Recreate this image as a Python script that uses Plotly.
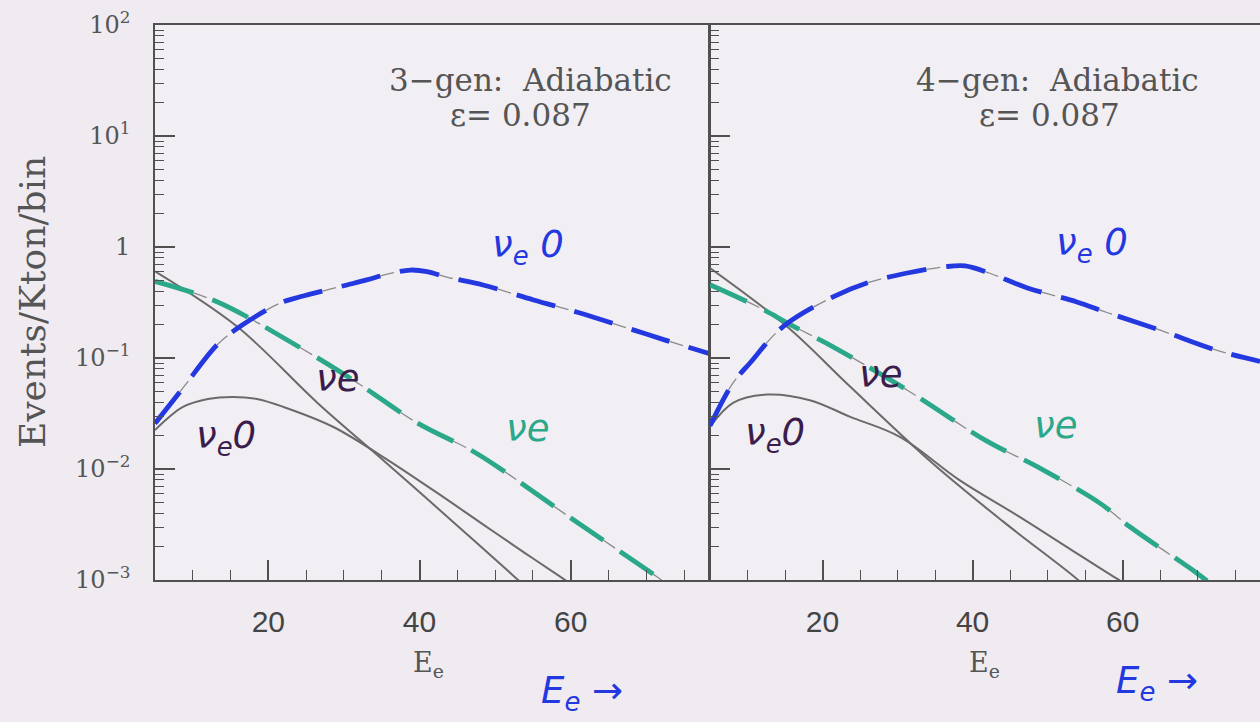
import plotly.graph_objects as go

# ---------------- data ----------------
# Left panel: 3-gen, adiabatic, eps = 0.087
e3_nue0_osc = [5, 8.7, 13.2, 16.2, 21.5, 24.2, 30.4, 33.0, 36.0, 38.8, 41.0, 43.6, 48.4, 55.1, 61, 67,
               72.5, 78.3]
y3_nue0_osc = [0.0257, 0.0537, 0.131, 0.191, 0.311, 0.356, 0.455, 0.505, 0.575, 0.620, 0.600, 0.535,
               0.455, 0.333, 0.257, 0.191, 0.145, 0.110]
e3_nue_osc = [5, 13.2, 24.3, 31.8, 39.7, 46.8, 50.3, 60.4, 71.4, 74]
y3_nue_osc = [0.49, 0.321, 0.123, 0.0596, 0.026, 0.0148, 0.0105, 0.00347, 0.00107, 0.00079]
e3_nue = [5, 15.9, 26.5, 35.2, 44, 52.7, 55]
y3_nue = [0.603, 0.191, 0.0394, 0.0120, 0.00355, 0.00105, 0.00076]
e3_nue0 = [5, 8.7, 12, 15.3, 18.5, 22, 28.6, 35.2, 42, 48, 54, 58.8, 61]
y3_nue0 = [0.0224, 0.0362, 0.0427, 0.0446, 0.0427, 0.0362, 0.0239, 0.0128, 0.00631, 0.00331,
           0.00174, 0.00105, 0.00083]

# Right panel: 4-gen, adiabatic, eps = 0.087
e4_nue0_osc = [5, 8.07, 10.33, 14.7, 21.4, 25.9, 31.3, 36.1, 39, 42.3, 47.3, 53.9, 57.9, 65, 72.6, 78.3]
y4_nue0_osc = [0.0245, 0.0596, 0.0902, 0.191, 0.355, 0.474, 0.583, 0.661, 0.676, 0.580, 0.428, 0.320,
               0.257, 0.178, 0.117, 0.0933]
e4_nue_osc = [5, 11.7, 15.7, 21.4, 31.3, 41.9, 48.6, 57, 61, 69.9, 73]
y4_nue_osc = [0.457, 0.282, 0.200, 0.126, 0.0513, 0.0178, 0.0105, 0.0049, 0.0030, 0.00115, 0.00079]
e4_nue = [5, 15.3, 23.7, 34.7, 44, 53.7, 56]
y4_nue = [0.646, 0.191, 0.055, 0.0112, 0.00339, 0.00105, 0.00076]
e4_nue0 = [5, 8.07, 12.6, 18.3, 23.7, 30.3, 38.3, 46, 53, 59, 61]
y4_nue0 = [0.024, 0.0394, 0.0468, 0.0417, 0.0295, 0.0195, 0.0079, 0.0038, 0.0019, 0.00105, 0.00087]

y_tickvals = [1e2, 1e1, 1, 1e-1, 1e-2, 1e-3]
y_ticktext = ["10<sup>2</sup>", "10<sup>1</sup>", "1", "10<sup>\u22121</sup>", "10<sup>\u22122</sup>",
              "10<sup>\u22123</sup>"]
x_tickvals = [20, 40, 60]
x_ticktext = ["20", "40", "60"]
panel_titles = ["3\u2212gen:  Adiabatic", "4\u2212gen:  Adiabatic"]
panel_eps = ["\u03b5= 0.087", "\u03b5= 0.087"]
y_title = "Events/Kton/bin"
x_title = "E<sub>e</sub>"

# ---------------- styling ----------------
W, H = 1260, 722
BG = "#efebf1"
AX = "#505050"
GRAY = "#6a6a6a"
BLUE = "#2438e0"
TEAL = "#2aa889"
PURPLE = "#3b1d4d"
SERIF = "DejaVu Serif"


def fx(p):
    return p / W


def fy(p):
    return 1 - p / H


fig = go.Figure()


def add_panel(xa, ya, e_b, y_b, e_t, y_t, e_n, y_n, e_0, y_0):
    # solid gray (no oscillation) curves
    for e, y in ((e_n, y_n), (e_0, y_0)):
        fig.add_trace(go.Scatter(x=e, y=y, xaxis=xa, yaxis=ya, mode="lines",
                                 line=dict(color=GRAY, width=2, shape="spline"),
                                 showlegend=False, hoverinfo="skip"))
    # dashed curves: thin gray base + thick coloured dashes
    for e, y, c in ((e_t, y_t, TEAL), (e_b, y_b, BLUE)):
        fig.add_trace(go.Scatter(x=e, y=y, xaxis=xa, yaxis=ya, mode="lines",
                                 line=dict(color="#8a8a8a", width=1.3, shape="spline", dash="14px,6px"),
                                 showlegend=False, hoverinfo="skip"))
        fig.add_trace(go.Scatter(x=e, y=y, xaxis=xa, yaxis=ya, mode="lines",
                                 line=dict(color=c, width=4.8, shape="spline", dash="40px,20px"),
                                 showlegend=False, hoverinfo="skip"))


add_panel("x", "y", e3_nue0_osc, y3_nue0_osc, e3_nue_osc, y3_nue_osc, e3_nue, y3_nue, e3_nue0, y3_nue0)
add_panel("x2", "y2", e4_nue0_osc, y4_nue0_osc, e4_nue_osc, y4_nue_osc, e4_nue, y4_nue, e4_nue0, y4_nue0)

minor_y = [m * 10 ** k for k in range(-3, 2) for m in range(2, 10)]

xcommon = dict(range=[5, 78.3], tickmode="array", tickvals=x_tickvals, ticktext=x_ticktext,
               ticks="inside", ticklen=20, tickwidth=1.5, tickcolor=AX, automargin=False,
               showline=True, linecolor=AX, linewidth=1.6, mirror=True, showgrid=False, zeroline=False,
               tickfont=dict(family="Liberation Sans", size=30, color="#444"), ticklabelstandoff=14,
               minor=dict(tickmode="linear", tick0=0, dtick=5, ticks="inside", ticklen=10,
                          tickwidth=1.3, tickcolor=AX, showgrid=False))
ycommon = dict(type="log", range=[-3, 2], tickmode="array", tickvals=y_tickvals, ticktext=y_ticktext,
               ticks="inside", ticklen=20, tickwidth=1.5, tickcolor=AX, automargin=False,
               showline=True, linecolor=AX, linewidth=1.6, showgrid=False, zeroline=False,
               tickfont=dict(family=SERIF, size=24, color="#555"), ticklabelstandoff=18,
               minor=dict(tickmode="array", tickvals=minor_y, ticks="inside", ticklen=9,
                          tickwidth=1.2, tickcolor=AX, showgrid=False))

fig.update_layout(
    width=W, height=H,
    margin=dict(l=0, r=0, t=0, b=0, autoexpand=False),
    paper_bgcolor=BG, plot_bgcolor="#f2eff4",
    showlegend=False,
    xaxis=dict(domain=[fx(155), fx(709)], anchor="y", **xcommon),
    yaxis=dict(domain=[fy(580), fy(25)], anchor="x", mirror=True, **ycommon),
    xaxis2=dict(domain=[fx(710), 1.0], anchor="y2", **xcommon),
    yaxis2=dict(domain=[fy(580), fy(25)], anchor="x2", mirror=False, showticklabels=False,
                **{k: v for k, v in ycommon.items() if k not in ("tickfont", "ticklabelstandoff")}),
)

ann = []
# panel texts
for tcx, ecx, t, eps in ((530, 520, panel_titles[0], panel_eps[0]),
                         (1057, 1049, panel_titles[1], panel_eps[1])):
    ann.append(dict(x=fx(tcx), y=fy(80), xref="paper", yref="paper", text=t, showarrow=False,
                    xanchor="center", yanchor="middle", font=dict(family=SERIF, size=31, color="#555")))
    ann.append(dict(x=fx(ecx), y=fy(115), xref="paper", yref="paper", text=eps, showarrow=False,
                    xanchor="center", yanchor="middle", font=dict(family=SERIF, size=31, color="#555")))
# axis titles
for cx in (428, 984):
    ann.append(dict(x=fx(cx), y=fy(664), xref="paper", yref="paper", text=x_title, showarrow=False,
                    xanchor="center", yanchor="middle", font=dict(family=SERIF, size=27, color="#555")))
ann.append(dict(x=fx(32), y=fy(302), xref="paper", yref="paper", text=y_title, showarrow=False,
                textangle=-90, xanchor="center", yanchor="middle",
                font=dict(family=SERIF, size=36, color="#555")))

# handwritten labels
HAND = "DejaVu Sans"
hand = [
    (528, 247, "\u03bd<sub>e</sub> 0", BLUE), (1092, 245, "\u03bd<sub>e</sub> 0", BLUE),
    (337, 378, "\u03bde", PURPLE), (880, 374, "\u03bde", PURPLE),
    (226, 438, "\u03bd<sub>e</sub>0", PURPLE), (775, 435, "\u03bd<sub>e</sub>0", PURPLE),
    (527, 428, "\u03bde", TEAL), (1055, 425, "\u03bde", TEAL),
    (582, 693, "E<sub>e</sub> \u2192", BLUE), (1157, 683, "E<sub>e</sub> \u2192", BLUE),
]
for cx, cy, t, c in hand:
    ann.append(dict(x=fx(cx), y=fy(cy), xref="paper", yref="paper", text="<i>" + t + "</i>",
                    showarrow=False, xanchor="center", yanchor="middle",
                    font=dict(family=HAND, size=37, color=c)))

fig.update_layout(annotations=ann)
fig.write_html("out.html", config={"displayModeBar": False},
               post_script="document.body.style.margin='0';")
